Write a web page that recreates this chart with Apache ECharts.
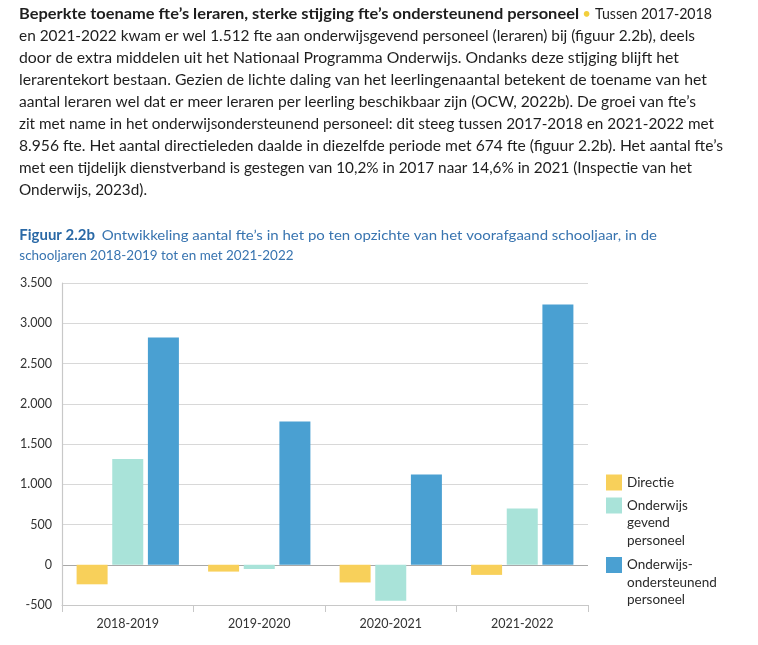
<!DOCTYPE html>
<html>
<head>
<meta charset="utf-8">
<script src="https://cdn.jsdelivr.net/npm/echarts@6/dist/echarts.min.js"></script>
<style>
html,body{margin:0;padding:0;background:#fff;}
#chart{width:758px;height:645px;}
</style>
</head>
<body>
<div id="chart"></div>
<script>
// ---- data ----
var categories = ['2018-2019', '2019-2020', '2020-2021', '2021-2022'];
var directie = [-243, -85, -220, -126];
var onderwijsgevend = [1313, -53, -448, 700];
var ondersteunend = [2822, 1780, 1120, 3234];
var seriesNames = ['Directie', 'Onderwijs gevend personeel', 'Onderwijs-ondersteunend personeel'];
var legendLabels = ['Directie', '\n\nOnderwijs\ngevend\npersoneel', '\n\nOnderwijs-\nondersteunend\npersoneel'];
var yTicks = { min: -500, max: 3500, interval: 500 };

// ---- text ----
var introBold = 'Beperkte toename fte’s leraren, sterke stijging fte’s ondersteunend personeel';
var introLines = [
  'Tussen 2017-2018',
  'en 2021-2022 kwam er wel 1.512 fte aan onderwijsgevend personeel (leraren) bij (figuur 2.2b), deels',
  'door de extra middelen uit het Nationaal Programma Onderwijs. Ondanks deze stijging blijft het',
  'lerarentekort bestaan. Gezien de lichte daling van het leerlingenaantal betekent de toename van het',
  'aantal leraren wel dat er meer leraren per leerling beschikbaar zijn (OCW, 2022b). De groei van fte’s',
  'zit met name in het onderwijsondersteunend personeel: dit steeg tussen 2017-2018 en 2021-2022 met',
  '8.956 fte. Het aantal directieleden daalde in diezelfde periode met 674 fte (figuur 2.2b). Het aantal fte’s',
  'met een tijdelijk dienstverband is gestegen van 10,2% in 2017 naar 14,6% in 2021 (Inspectie van het',
  'Onderwijs, 2023d).'
];
var figLabel = 'Figuur 2.2b';
var figTitle1 = 'Ontwikkeling aantal fte’s in het po ten opzichte van het voorafgaand schooljaar, in de';
var figTitle2 = 'schooljaren 2018-2019 tot en met 2021-2022';

// layout of text lines (left, right edge, vertical centre)
var introRight = [712, 695, 679, 707, 696, 714, 723, 692, 147];

var colors = ['#F8D05A', '#A9E3D9', '#4AA0D2'];
var FONT = 'Lato, "Noto Sans", sans-serif';
var textColor = '#1e1e1e';
var blue = '#3874B0';
var blueDark = '#2A69A6';

var measureCtx = document.createElement('canvas').getContext('2d');
function measure(text, font) {
  measureCtx.font = font;
  return measureCtx.measureText(text).width;
}
function fitText(text, font, left, right, y, fill) {
  var w = measure(text, font);
  return {
    type: 'text', x: left, y: y, scaleX: (right - left) / w, scaleY: 1,
    style: { text: text, font: font, fill: fill, verticalAlign: 'middle', align: 'left' }
  };
}

var graphics = [];
var lineY0 = 13.5, lineH = 22.1;
var fReg = '15.5px ' + FONT;
var fBold = 'bold 15.5px ' + FONT;
graphics.push(fitText(introBold, fBold, 19, 579, lineY0, textColor));
graphics.push({
  type: 'text', x: 586.5, y: lineY0 + 0.5,
  style: { text: '•', font: '15px ' + FONT, fill: '#F2CF3C', align: 'center', verticalAlign: 'middle' }
});
graphics.push(fitText(introLines[0], fReg, 595, introRight[0], lineY0, textColor));
for (var i = 1; i < introLines.length; i++) {
  graphics.push(fitText(introLines[i], fReg, 19, introRight[i], lineY0 + i * lineH, textColor));
}
var fTitle = '14.3px ' + FONT;
var fTitleB = 'bold 14.3px ' + FONT;
graphics.push(fitText(figLabel, fTitleB, 19.3, 95, 235, blueDark));
graphics.push(fitText(figTitle1, fTitle, 101.7, 657, 235, blue));
graphics.push(fitText(figTitle2, fTitle, 19.3, 293.5, 255.5, blue));

function fmt(v) {
  var s = Math.abs(v).toString().replace(/\B(?=(\d{3})+(?!\d))/g, '.');
  return (v < 0 ? '-' : '') + s;
}

var legendTops = [473.75, 461.75, 521.25];
var legends = seriesNames.map(function (n, k) {
  return {
    data: [n],
    orient: 'vertical',
    left: 606,
    top: legendTops[k],
    padding: 0,
    itemWidth: 16,
    itemHeight: 16,
    icon: 'rect',
    selectedMode: false,
    formatter: function () { return legendLabels[k]; },
    textStyle: { fontFamily: FONT, fontSize: 13.5, lineHeight: 17.5, color: '#2a2a2a' }
  };
});

var chart = echarts.init(document.getElementById('chart'), null, { renderer: 'canvas' });
chart.setOption({
  backgroundColor: '#fff',
  animation: false,
  textStyle: { fontFamily: FONT },
  graphic: graphics,
  legend: legends,
  grid: { left: 62, right: 170, top: 283, bottom: 40, containLabel: false },
  xAxis: {
    type: 'category',
    data: categories,
    axisLine: { onZero: false, lineStyle: { color: '#c8c8c8', width: 1.2 } },
    axisTick: { show: true, length: 7, lineStyle: { color: '#c8c8c8' } },
    axisLabel: { fontFamily: FONT, fontSize: 12.5, color: '#333', margin: 12 }
  },
  yAxis: {
    type: 'value',
    min: yTicks.min, max: yTicks.max, interval: yTicks.interval,
    axisLine: { show: true, lineStyle: { color: '#c8c8c8', width: 1.2 } },
    axisTick: { show: false },
    axisLabel: { fontFamily: FONT, fontSize: 12.5, color: '#333', margin: 10, formatter: fmt },
    splitLine: { lineStyle: { color: ['#d8d8d8', '#a8a8a8', '#d8d8d8', '#d8d8d8', '#d8d8d8', '#d8d8d8', '#d8d8d8', '#d8d8d8', '#d8d8d8'], width: 1.2 } }
  },
  series: [
    { name: seriesNames[0], type: 'bar', data: directie, barWidth: 31, barGap: '15%', itemStyle: { color: colors[0] } },
    { name: seriesNames[1], type: 'bar', data: onderwijsgevend, barWidth: 31, barGap: '15%', itemStyle: { color: colors[1] } },
    { name: seriesNames[2], type: 'bar', data: ondersteunend, barWidth: 31, barGap: '15%', itemStyle: { color: colors[2] } }
  ]
});
</script>
</body>
</html>
